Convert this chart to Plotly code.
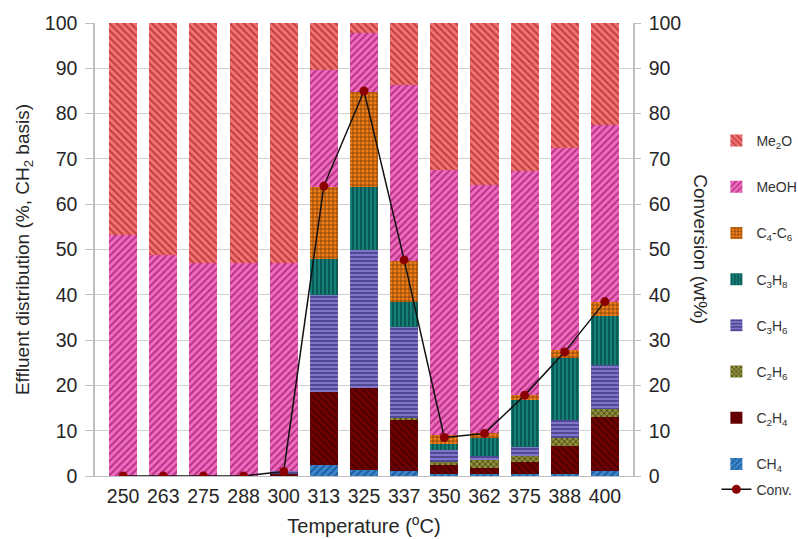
import plotly.graph_objects as go

# Reaction temperature (°C)
temps = ["250", "263", "275", "288", "300", "313", "325", "337", "350", "362", "375", "388", "400"]

# Effluent distribution (%, CH2 basis) per species, stacked bottom to top
ch4   = [0.0, 0.0, 0.0, 0.0, 0.2, 2.4, 1.3, 1.0, 0.5, 0.5, 0.5, 0.5, 1.0]
c2h4  = [0.0, 0.0, 0.0, 0.0, 0.3, 16.2, 18.2, 11.5, 2.0, 1.3, 2.7, 6.1, 12.1]
c2h6  = [0.0, 0.0, 0.0, 0.0, 0.0, 0.0, 0.0, 0.3, 0.6, 1.7, 1.2, 1.9, 1.8]
c3h6  = [0.0, 0.0, 0.0, 0.0, 0.5, 21.4, 30.4, 20.2, 2.6, 0.9, 1.9, 3.9, 9.6]
c3h8  = [0.0, 0.0, 0.0, 0.0, 0.0, 7.8, 14.0, 5.4, 1.4, 4.1, 10.5, 13.6, 10.8]
c4c6  = [0.0, 0.0, 0.0, 0.0, 0.0, 16.1, 20.9, 9.1, 1.9, 0.9, 1.1, 1.8, 3.2]
meoh  = [53.3, 48.8, 47.0, 47.0, 46.0, 25.7, 13.1, 38.8, 58.5, 54.9, 49.4, 44.5, 39.0]
me2o  = [46.7, 51.2, 53.0, 53.0, 53.0, 10.4, 2.1, 13.7, 32.5, 35.7, 32.7, 27.7, 22.5]

# Conversion (wt%)
conv  = [0.0, 0.0, 0.0, 0.0, 1.0, 64.0, 85.0, 47.7, 8.5, 9.4, 17.8, 27.4, 38.5]

series = [
    ("CH<sub>4</sub>",  ch4,  "#3b86cc", "#1d5a96", "/",  5, 8),
    ("C<sub>2</sub>H<sub>4</sub>", c2h4, "#6e0000", "#4a0000", "\\", 5, 7),
    ("C<sub>2</sub>H<sub>6</sub>", c2h6, "#8f8f3c", "#3a3a10", "x",  4, 6),
    ("C<sub>3</sub>H<sub>6</sub>", c3h6, "#7f77c6", "#3b3580", "-",  4, 5),
    ("C<sub>3</sub>H<sub>8</sub>", c3h8, "#14807a", "#0a4a45", "|",  4, 4),
    ("C<sub>4</sub>-C<sub>6</sub>", c4c6, "#f0801e", "#7a3a00", "+",  4, 3),
    ("MeOH", meoh, "#ee6cbf", "#b42f80", "/",  5, 2),
    ("Me<sub>2</sub>O", me2o, "#f07272", "#bf3a3a", "\\", 5, 1),
]

fig = go.Figure()

for name, vals, bg, fg, shape, size, rank in series:
    fig.add_trace(go.Bar(
        x=temps, y=vals, name=name,
        legendgroup=name, legendrank=rank,
        marker=dict(
            color=bg,
            line=dict(width=0),
            pattern=dict(shape=shape, fgcolor=fg, bgcolor=bg,
                         size=size, solidity=0.35, fillmode="replace"),
        ),
        hovertemplate="%{x} °C: %{y}<extra>" + name + "</extra>",
    ))

fig.add_trace(go.Scatter(
    x=temps, y=conv, name="Conv.", yaxis="y2",
    mode="lines+markers",
    line=dict(color="#111111", width=1.5, dash="solid"),
    marker=dict(color="#8b0000", size=9),
    legend="legend2",
))

font_family = "Liberation Sans, Arial, sans-serif"
tick_font = dict(family=font_family, size=19.5, color="#262626")
legend_font = dict(family=font_family, size=14, color="#333333")

fig.update_layout(
    width=798, height=539,
    margin=dict(l=95, r=165, t=23, b=63, autoexpand=False),
    plot_bgcolor="white", paper_bgcolor="white",
    barmode="stack", bargap=0.3,
    font=dict(family=font_family, color="#262626"),
    xaxis=dict(
        type="category", range=[-0.7, 12.7],
        showgrid=False, showline=True, linecolor="#bfbfbf", linewidth=1,
        ticks="", tickfont=tick_font, ticklabelstandoff=3,
        title=dict(text="Temperature (<sup>o</sup>C)",
                   font=dict(family=font_family, size=20, color="#262626"),
                   standoff=12),
    ),
    yaxis=dict(
        range=[0, 100], dtick=10,
        showgrid=True, gridcolor="#d0d0d0", gridwidth=1,
        showline=True, linecolor="#bfbfbf", linewidth=1.5,
        ticks="outside", ticklen=8, tickcolor="#bfbfbf",
        tickfont=tick_font, zeroline=False, ticklabelstandoff=4,
        title=dict(text="Effluent distribution (%, CH<sub>2</sub> basis)",
                   font=dict(family=font_family, size=19, color="#262626"),
                   standoff=10),
    ),
    yaxis2=dict(
        overlaying="y", side="right",
        range=[0, 100], dtick=10, showgrid=False,
        showline=True, linecolor="#bfbfbf", linewidth=1.5,
        ticks="outside", ticklen=6, tickcolor="#bfbfbf",
        tickfont=tick_font, zeroline=False, ticklabelstandoff=4,
    ),
    legend=dict(
        x=1.155, y=0.775, xanchor="left", yanchor="top",
        traceorder="grouped", tracegroupgap=25,
        font=legend_font,
        bgcolor="rgba(0,0,0,0)", itemwidth=30,
    ),
    legend2=dict(
        x=1.155, y=0.005, xanchor="left", yanchor="top",
        font=legend_font,
        bgcolor="rgba(0,0,0,0)", itemwidth=30,
    ),
    annotations=[dict(
        text="Conversion (wt%)", xref="paper", yref="paper",
        x=1.125, y=0.5, xanchor="center", yanchor="middle",
        textangle=90, showarrow=False,
        font=dict(family=font_family, size=19, color="#262626"),
    )],
)

fig.write_html("out.html")
